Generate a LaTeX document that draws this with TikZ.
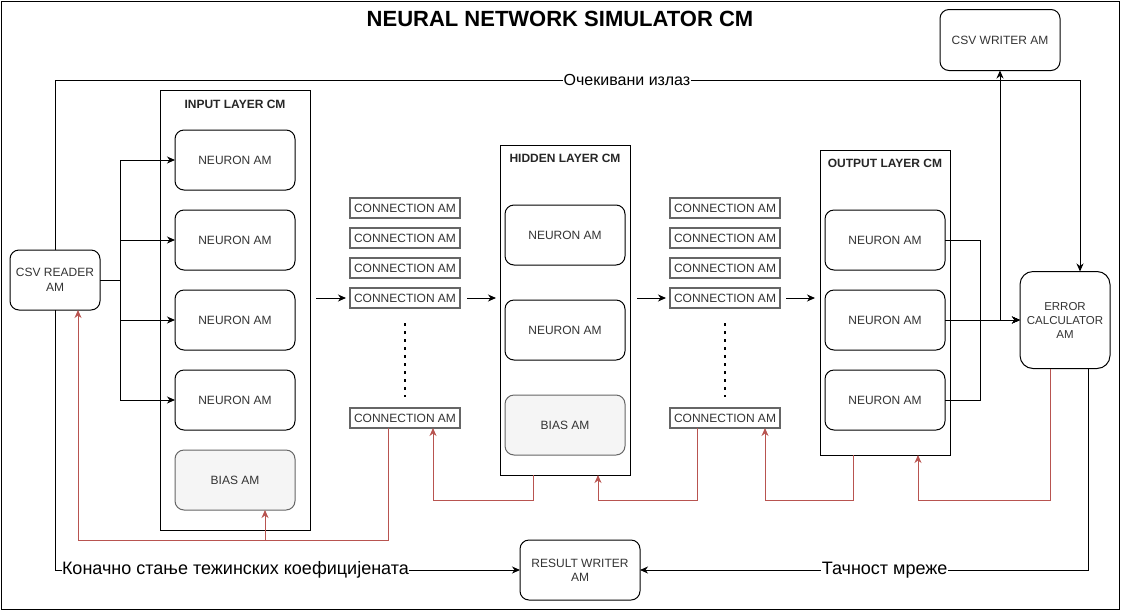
\documentclass[tikz,border=0pt]{standalone}
\usepackage{fontspec}
\setmainfont{Liberation Sans}
\usetikzlibrary{positioning}
\usetikzlibrary{arrows.meta}

\definecolor{fbred}{HTML}{B85450}
\definecolor{biasfill}{HTML}{F5F5F5}
\definecolor{txtgray}{HTML}{333333}
\definecolor{linegray}{HTML}{666666}

\begin{document}
\begin{tikzpicture}[x=1pt,y=-1pt,line width=1pt]
\tikzset{
  heading/.style={font=\fontsize{22}{26}\selectfont\bfseries},
  layerbox/.style={rectangle,draw=black,anchor=north west,inner sep=0pt,outer sep=0pt},
  layertitle/.style={font=\fontsize{12}{14}\selectfont\bfseries,text=black!85},
  neuron/.style={rectangle,rounded corners=9pt,draw=black,text=txtgray,font=\fontsize{12}{14}\selectfont,minimum width=120pt,minimum height=60pt,outer sep=0pt},
  bias/.style={neuron,fill=biasfill,draw=linegray},
  conn/.style={rectangle,draw=linegray,line width=1.3pt,text=txtgray,font=\fontsize{12}{14}\selectfont,minimum width=110pt,minimum height=20pt,inner sep=0pt,outer sep=0pt},
  ambox/.style={rectangle,rounded corners=9pt,draw=black,text=txtgray,font=\fontsize{12}{14.4}\selectfont,align=center,inner sep=1pt,outer sep=0pt},
  arrow/.style={-{Stealth[length=8pt,width=7pt,inset=2.5pt]},draw=black},
  feedback/.style={-{Stealth[length=8pt,width=7pt,inset=2.5pt]},color=fbred,draw=fbred},
  edgelabel/.style={fill=white,text=black,font=\fontsize{18}{20}\selectfont,inner sep=0.5pt},
  dots/.style={draw=black,line width=2.5pt,dash pattern=on 2.5pt off 5.5pt,shorten <=15pt,shorten >=11pt},
}
\useasboundingbox (0,0) rectangle (1121,611);
\node[rectangle,draw=black,anchor=north west,minimum width=1118pt,minimum height=608pt] (frame) at (1,1) {};
\node[heading] (name) at (560,19) {NEURAL NETWORK SIMULATOR CM};
%
\node[ambox,minimum width=90pt,minimum height=60pt] (reader) at (55,280) {CSV READER\\AM};
\node[ambox,minimum width=120pt,minimum height=61pt] (writer) at (1000,40) {CSV WRITER AM};
\node[ambox,minimum width=90pt,minimum height=97pt,rounded corners=13pt,font=\fontsize{11.5}{14}\selectfont] (errcalc) at (1065,320) {ERROR\\CALCULATOR\\AM};
\node[ambox,minimum width=120pt,minimum height=60pt] (result) at (580,570) {RESULT WRITER\\AM};
%
\node[layerbox,minimum width=150pt,minimum height=440pt] (inlayer) at (160,90) {};
\node[layertitle] (intitle) at ([yshift=-14pt]inlayer.north) {INPUT LAYER CM};
\node[neuron] (in1) at (235,160) {NEURON AM};
\node[neuron,below=20pt of in1] (in2) {NEURON AM};
\node[neuron,below=20pt of in2] (in3) {NEURON AM};
\node[neuron,below=20pt of in3] (in4) {NEURON AM};
\node[bias,below=20pt of in4] (inbias) {BIAS AM};
%
\node[conn] (ca1) at (405,208) {CONNECTION AM};
\node[conn,below=10pt of ca1] (ca2) {CONNECTION AM};
\node[conn,below=10pt of ca2] (ca3) {CONNECTION AM};
\node[conn,below=10pt of ca3] (ca4) {CONNECTION AM};
\node[conn] (ca5) at (405,418) {CONNECTION AM};
%
\node[layerbox,minimum width=130pt,minimum height=330pt] (hidlayer) at (500,145) {};
\node[layertitle] (hidtitle) at ([yshift=-13pt]hidlayer.north) {HIDDEN LAYER CM};
\node[neuron] (hid1) at (565,235) {NEURON AM};
\node[neuron,below=35pt of hid1] (hid2) {NEURON AM};
\node[bias,below=35pt of hid2] (hidbias) {BIAS AM};
%
\node[conn] (cb1) at (725,208) {CONNECTION AM};
\node[conn,below=10pt of cb1] (cb2) {CONNECTION AM};
\node[conn,below=10pt of cb2] (cb3) {CONNECTION AM};
\node[conn,below=10pt of cb3] (cb4) {CONNECTION AM};
\node[conn] (cb5) at (725,418) {CONNECTION AM};
%
\node[layerbox,minimum width=130pt,minimum height=305pt] (outlayer) at (820,150) {};
\node[layertitle] (outtitle) at ([yshift=-13pt]outlayer.north) {OUTPUT LAYER CM};
\node[neuron] (out1) at (885,240) {NEURON AM};
\node[neuron,below=20pt of out1] (out2) {NEURON AM};
\node[neuron,below=20pt of out2] (out3) {NEURON AM};
%
\path[arrow] (reader.east) -- ++(20,0) |- (in1.west);
\path[arrow] (reader.east) -- ++(20,0) |- (in2.west);
\path[arrow] (reader.east) -- ++(20,0) |- (in3.west);
\path[arrow] (reader.east) -- ++(20,0) |- (in4.west);
%
\path[arrow,shorten <=6pt,shorten >=4pt] (inlayer.east |- ca4) -- (ca4.west);
\path[arrow,shorten <=7pt,shorten >=4pt] (ca4.east) -- (ca4 -| hidlayer.west);
\path[arrow,shorten <=7pt,shorten >=4pt] (hidlayer.east |- cb4) -- (cb4.west);
\path[arrow,shorten <=6pt,shorten >=5pt] (cb4.east) -- (cb4 -| outlayer.west);
\path[dots] (ca4.south) -- (ca5.north);
\path[dots] (cb4.south) -- (cb5.north);
%
\path[arrow] (out1.east) -| ([xshift=35pt]out2.east) -- (errcalc.west);
\path[arrow] (out3.east) -| ([xshift=35pt]out2.east) -- (errcalc.west);
\path[arrow] (out2.east) -- (errcalc.west);
\path[arrow] (out2.east) -| (writer.south);
%
\coordinate (expected) at (1080,80);
\path[arrow] (reader.north) |- (expected) node[edgelabel,font=\fontsize{16}{18}\selectfont,pos=0.779] {Очекивани излаз} -- ([xshift=15pt]errcalc.north);
\path[arrow] (reader.south) |- (result.west) node[edgelabel,pos=0.694] {Коначно стање тежинских коефицијената};
\path[arrow] ([xshift=23pt]errcalc.south) |- (result.east) node[edgelabel,pos=0.727] {Тачност мреже};
%
\path[feedback] ([xshift=-17pt]ca5.south) -- ++(0,112) -| ([xshift=23pt]reader.south);
\path[feedback] ([xshift=-17pt]ca5.south) -- ++(0,112) -| ([xshift=30pt]inbias.south);
\path[feedback] ([xshift=-32pt]hidlayer.south) -- ++(0,25) -| ([xshift=28pt]ca5.south);
\path[feedback] ([xshift=-28pt]cb5.south) -- ++(0,72) -| ([xshift=33pt]hidlayer.south);
\path[feedback] ([xshift=-32pt]outlayer.south) -- ++(0,45) -| ([xshift=40pt]cb5.south);
\path[feedback] ([xshift=-15pt]errcalc.south) -- ++(0,132) -| ([xshift=33pt]outlayer.south);
\end{tikzpicture}
\end{document}
